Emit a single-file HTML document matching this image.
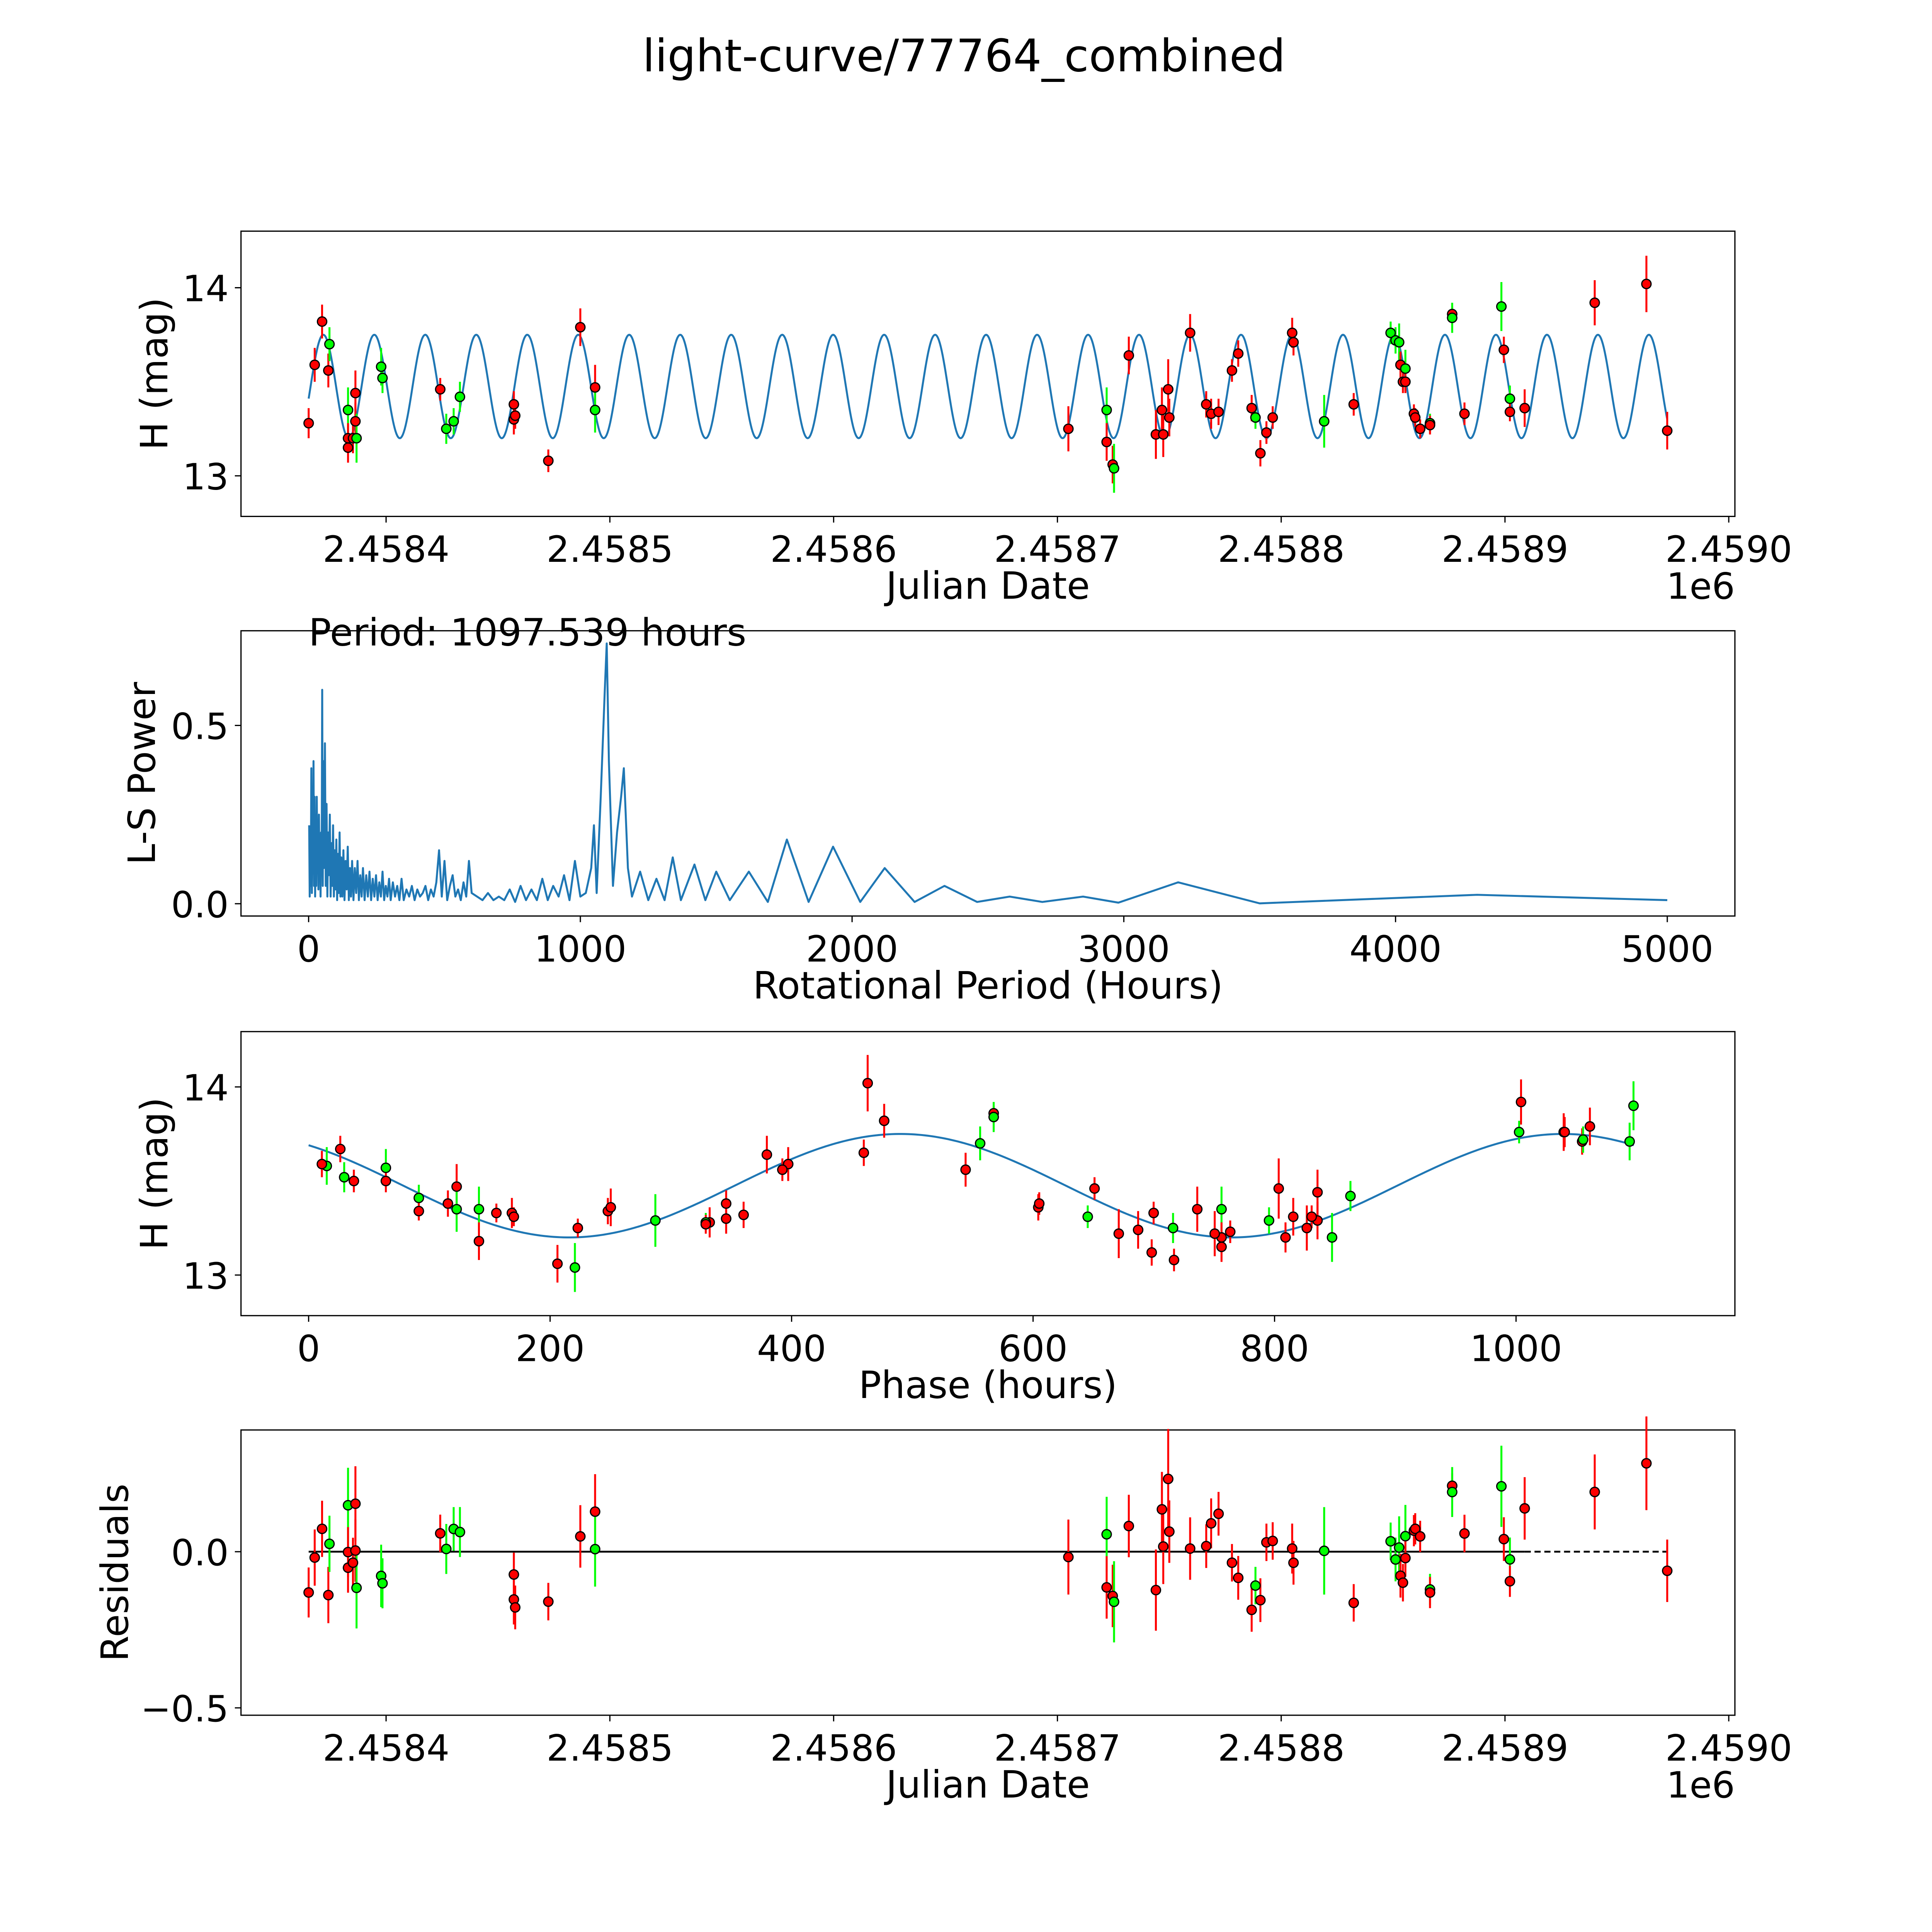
<!DOCTYPE html>
<html><head><meta charset="utf-8"><style>
html,body{margin:0;padding:0;background:#fff;overflow:hidden}
svg{display:block}
text{font-family:"DejaVu Sans","Liberation Sans",sans-serif;fill:#000}
</style></head><body>
<svg id="fig" xmlns="http://www.w3.org/2000/svg" width="5400" height="5400" viewBox="0 0 1697 1697">
<rect width="1697" height="1697" fill="#fff"/>
<text x="784" y="58" font-size="36.5" text-anchor="middle">light-curve/77764_combined</text>
</svg>
<script>
// ---- data (JD offset from 2458000, H mag, error, colour) ----
const obsJd = [365.4,368.1,371.4,374.2,374.7,383.0,383.0,383.0,385.2,386.3,386.3,386.8,397.8,398.4,424.2,426.9,430.2,433.0,457.1,457.1,457.7,472.5,486.8,493.4,493.4,704.9,722.0,722.0,724.7,725.3,731.9,744.0,746.7,747.3,749.5,750.0,759.3,766.5,768.7,772.0,778.0,780.8,786.8,788.5,790.7,793.4,796.2,804.9,805.5,819.2,832.4,848.9,851.1,852.7,853.3,854.4,855.5,855.5,859.3,859.9,862.1,866.5,866.5,876.4,876.4,881.9,898.4,899.5,902.2,902.2,908.8,940.1,963.2,972.5];
const obsMag = [13.28,13.59,13.82,13.56,13.70,13.35,13.20,13.15,13.20,13.44,13.29,13.20,13.58,13.52,13.46,13.25,13.29,13.42,13.38,13.30,13.32,13.08,13.79,13.47,13.35,13.25,13.35,13.18,13.06,13.04,13.64,13.22,13.35,13.22,13.46,13.31,13.76,13.38,13.33,13.34,13.56,13.65,13.36,13.31,13.12,13.23,13.31,13.76,13.71,13.29,13.38,13.76,13.72,13.71,13.59,13.50,13.57,13.50,13.33,13.31,13.25,13.28,13.27,13.86,13.84,13.33,13.90,13.67,13.41,13.34,13.36,13.92,14.02,13.24];
const obsErr = [0.08,0.09,0.09,0.09,0.09,0.12,0.08,0.08,0.08,0.12,0.1,0.13,0.1,0.08,0.06,0.08,0.07,0.08,0.07,0.08,0.07,0.06,0.1,0.12,0.12,0.12,0.12,0.1,0.1,0.13,0.1,0.13,0.12,0.12,0.16,0.1,0.1,0.07,0.08,0.07,0.06,0.07,0.07,0.06,0.07,0.06,0.06,0.08,0.07,0.14,0.06,0.06,0.07,0.1,0.07,0.06,0.1,0.06,0.05,0.05,0.05,0.05,0.05,0.04,0.08,0.06,0.13,0.07,0.07,0.05,0.1,0.12,0.15,0.1];
const obsCol = "rrrrggrrrrrgggrgggrrrrrrgrgrrgrrrrrrrrrrrrrgrrrrrgrgggrrgrrrrgrrgrgrgrrrrrr".split("");
// periodogram
const lsPeriod = [2,4,6,8,10,12,14,16,18,20,22,24,26,28,30,32,34,36,38,40,42,44,46,48,50,52,54,56,58,60,63,66,69,72,75,78,81,84,87,90,93,96,99,102,105,108,111,114,117,120,124,128,132,136,140,144,148,152,156,160,165,170,175,180,185,190,195,200,206,212,218,224,230,236,242,248,254,260,266,272,278,284,290,296,302,310,318,326,334,342,350,360,370,380,390,400,410,420,430,440,450,460,470,480,490,500,510,520,530,540,550,560,570,580,590,600,620,640,660,680,700,720,740,760,780,800,820,840,860,880,900,920,940,960,980,1000,1020,1040,1050,1060,1075,1090,1097,1105,1120,1135,1150,1160,1175,1190,1220,1250,1280,1310,1340,1370,1420,1460,1500,1550,1620,1690,1760,1840,1930,2030,2120,2230,2340,2460,2580,2700,2850,2980,3200,3500,3800,4300,5000];
const lsPower = [0.22,0.02,0.2,0.05,0.38,0.03,0.22,0.1,0.4,0.05,0.3,0.02,0.25,0.05,0.3,0.1,0.22,0.04,0.25,0.1,0.18,0.02,0.2,0.1,0.6,0.05,0.4,0.1,0.2,0.45,0.05,0.28,0.02,0.2,0.08,0.25,0.02,0.17,0.05,0.22,0.02,0.15,0.04,0.18,0.01,0.14,0.03,0.2,0.02,0.13,0.02,0.15,0.01,0.12,0.04,0.16,0.01,0.1,0.02,0.12,0.01,0.1,0.03,0.12,0.01,0.08,0.02,0.1,0.01,0.08,0.02,0.09,0.01,0.07,0.02,0.08,0.01,0.06,0.02,0.09,0.01,0.05,0.02,0.07,0.01,0.06,0.02,0.05,0.01,0.07,0.01,0.04,0.02,0.05,0.01,0.04,0.02,0.03,0.05,0.01,0.04,0.02,0.06,0.15,0.02,0.12,0.01,0.05,0.08,0.02,0.04,0.01,0.06,0.02,0.12,0.03,0.02,0.01,0.03,0.01,0.02,0.01,0.04,0.005,0.05,0.01,0.04,0.01,0.07,0.01,0.05,0.02,0.08,0.01,0.12,0.02,0.03,0.1,0.22,0.03,0.3,0.6,0.73,0.4,0.05,0.2,0.3,0.38,0.1,0.02,0.09,0.01,0.07,0.01,0.13,0.01,0.11,0.01,0.09,0.01,0.09,0.005,0.18,0.005,0.16,0.005,0.1,0.005,0.05,0.005,0.02,0.005,0.02,0.003,0.06,0.001,0.01,0.025,0.01];
// model
const periodHours = [1097.539];
const modelParams = [13.475, 0.275, 490]; // mean, amplitude, peak phase
const x1Ticks = [400,500,600,700,800,900,1000];
const x1Labels = ["2.4584","2.4585","2.4586","2.4587","2.4588","2.4589","2.4590"];
const yMagTicks = [13,14];
const x2Ticks = [0,1000,2000,3000,4000,5000];
const y2Ticks = [0,0.5];
const y2Labels = ["0.0","0.5"];
const x3Ticks = [0,200,400,600,800,1000];
const y4Ticks = [-0.5,0];
const y4Labels = ["\u22120.5","0.0"];

const P = periodHours[0];
function phaseOf(jd){let p=((jd-963.2)*24*1.0036+463)%P; if(p<0)p+=P; return p;}
function model(ph){return modelParams[0]+modelParams[1]*Math.cos(2*Math.PI*(ph-modelParams[2])/(P/2));}

const svg=document.getElementById('fig');
const NS="http://www.w3.org/2000/svg";
function el(tag,attrs,parent){const e=document.createElementNS(NS,tag);for(const k in attrs)e.setAttribute(k,attrs[k]);(parent||svg).appendChild(e);return e;}
function txt(s,x,y,size,anchor,parent){const t=el('text',{x:x,y:y,'font-size':size,'text-anchor':anchor||'middle'},parent);t.textContent=s;return t;}

const L=196,R=1411;
const TF=29.5, LF=30.5;
function lin(d0,d1,r0,r1){return v=>r0+(v-d0)*(r1-r0)/(d1-d0);}

function frame(name,top,bot,xs,ys,xt,xl,yt,yl,xlabel,ylabel,ylabX){
  const g=el('g',{});
  
  
  const f=el('rect',{x:L,y:top,width:R-L,height:bot-top,fill:'none',stroke:'#000','stroke-width':1},g);
  
  
  xt.forEach((v,i)=>{const x=xs(v);el('line',{x1:x,x2:x,y1:bot,y2:bot+5,stroke:'#000'},g);
    const t=txt(xl[i],x,bot+37,TF,'middle',g);
    
    });
  yt.forEach((v,i)=>{const y=ys(v);el('line',{x1:L-5,x2:L,y1:y,y2:y,stroke:'#000'},g);
    const t=txt(yl[i],L-10,y+11,TF,'end',g);
    
    });
  const xa=txt(xlabel,(L+R)/2,bot+67,LF,'middle',g);
  
  
  const ya=el('text',{x:0,y:0,'font-size':LF,'text-anchor':'middle',transform:`translate(${ylabX},${(top+bot)/2}) rotate(-90)`},g);
  ya.textContent=ylabel;
  
  
  return g;
}
function pts(g,xs,ys,xvals,yvals,errScale){
  for(let i=0;i<xvals.length;i++){
    const c=obsCol[i]==='g'?'#00ff00':'#ff0000';
    const x=xs(xvals[i]),y=ys(yvals[i]),e=obsErr[i]*errScale;
    const ln=el('line',{x1:x,x2:x,y1:y-e,y2:y+e,stroke:c,'stroke-width':1.6},g);
    
    
  }
  for(let i=0;i<xvals.length;i++){
    const c=obsCol[i]==='g'?'#00ff00':'#ff0000';
    const p=el('circle',{cx:xs(xvals[i]),cy:ys(yvals[i]),r:3.8,fill:c,stroke:'#000','stroke-width':1},g);
    
    
  }
}

// Panel 1
const xs1=lin(400,1000,314,1406), ys1=lin(13,14,387,234);
const g1=frame('light-curve-panel',188,420,xs1,ys1,x1Ticks,x1Labels,yMagTicks,yMagTicks.map(String),'Julian Date','H (mag)',136);
const o1=txt('1e6',1411,487,TF,'end',g1);


let d='';const j0=obsJd[0],j1=obsJd[obsJd.length-1];
for(let k=0;k<=1500;k++){const jd=j0+(j1-j0)*k/1500;d+=(k?'L':'M')+xs1(jd).toFixed(2)+','+ys1(model(phaseOf(jd))).toFixed(2);}
const c1=el('path',{d:d,fill:'none',stroke:'#1f77b4','stroke-width':1.6},g1);


pts(g1,xs1,ys1,obsJd,obsMag,153);

// Panel 2
const xs2=lin(0,5000,251,1356), ys2=lin(0,0.5,735,590);
const g2=frame('periodogram-panel',513,745,xs2,ys2,x2Ticks,x2Ticks.map(String),y2Ticks,y2Labels,'Rotational Period (Hours)','L-S Power',126);
d='';lsPeriod.forEach((p,i)=>{d+=(i?'L':'M')+xs2(p).toFixed(2)+','+ys2(lsPower[i]).toFixed(2);});
const c2=el('path',{d:d,fill:'none',stroke:'#1f77b4','stroke-width':1.6,'stroke-linejoin':'round'},g2);


const pt=txt('Period: '+P.toFixed(3)+' hours',251,525,LF,'start',g2);



// Panel 3
const xs3=lin(0,1000,251,1233), ys3=lin(13,14,1037,884);
const g3=frame('phase-panel',839,1070,xs3,ys3,x3Ticks,x3Ticks.map(String),yMagTicks,yMagTicks.map(String),'Phase (hours)','H (mag)',136);
d='';for(let k=0;k<=400;k++){const ph=P*k/400;d+=(k?'L':'M')+xs3(ph).toFixed(2)+','+ys3(model(ph)).toFixed(2);}
const c3=el('path',{d:d,fill:'none',stroke:'#1f77b4','stroke-width':1.6},g3);


pts(g3,xs3,ys3,obsJd.map(phaseOf),obsMag,153);

// Panel 4
const ys4=lin(0,-0.5,1262,1389);
const g4=frame('residuals-panel',1163,1395,xs1,ys4,x1Ticks,x1Labels,y4Ticks,y4Labels,'Julian Date','Residuals',104);
const o4=txt('1e6',1411,1462,TF,'end',g4);


const zl=el('line',{x1:xs1(j0),x2:xs1(908.8),y1:ys4(0),y2:ys4(0),stroke:'#000','stroke-width':1.5},g4);


const zd=el('line',{x1:xs1(908.8),x2:xs1(j1),y1:ys4(0),y2:ys4(0),stroke:'#000','stroke-width':1.5,'stroke-dasharray':'5,3'},g4);


const res=obsJd.map((j,i)=>obsMag[i]-model(phaseOf(j)));
pts(g4,xs1,ys4,obsJd,res,254);
</script>
</body></html>
